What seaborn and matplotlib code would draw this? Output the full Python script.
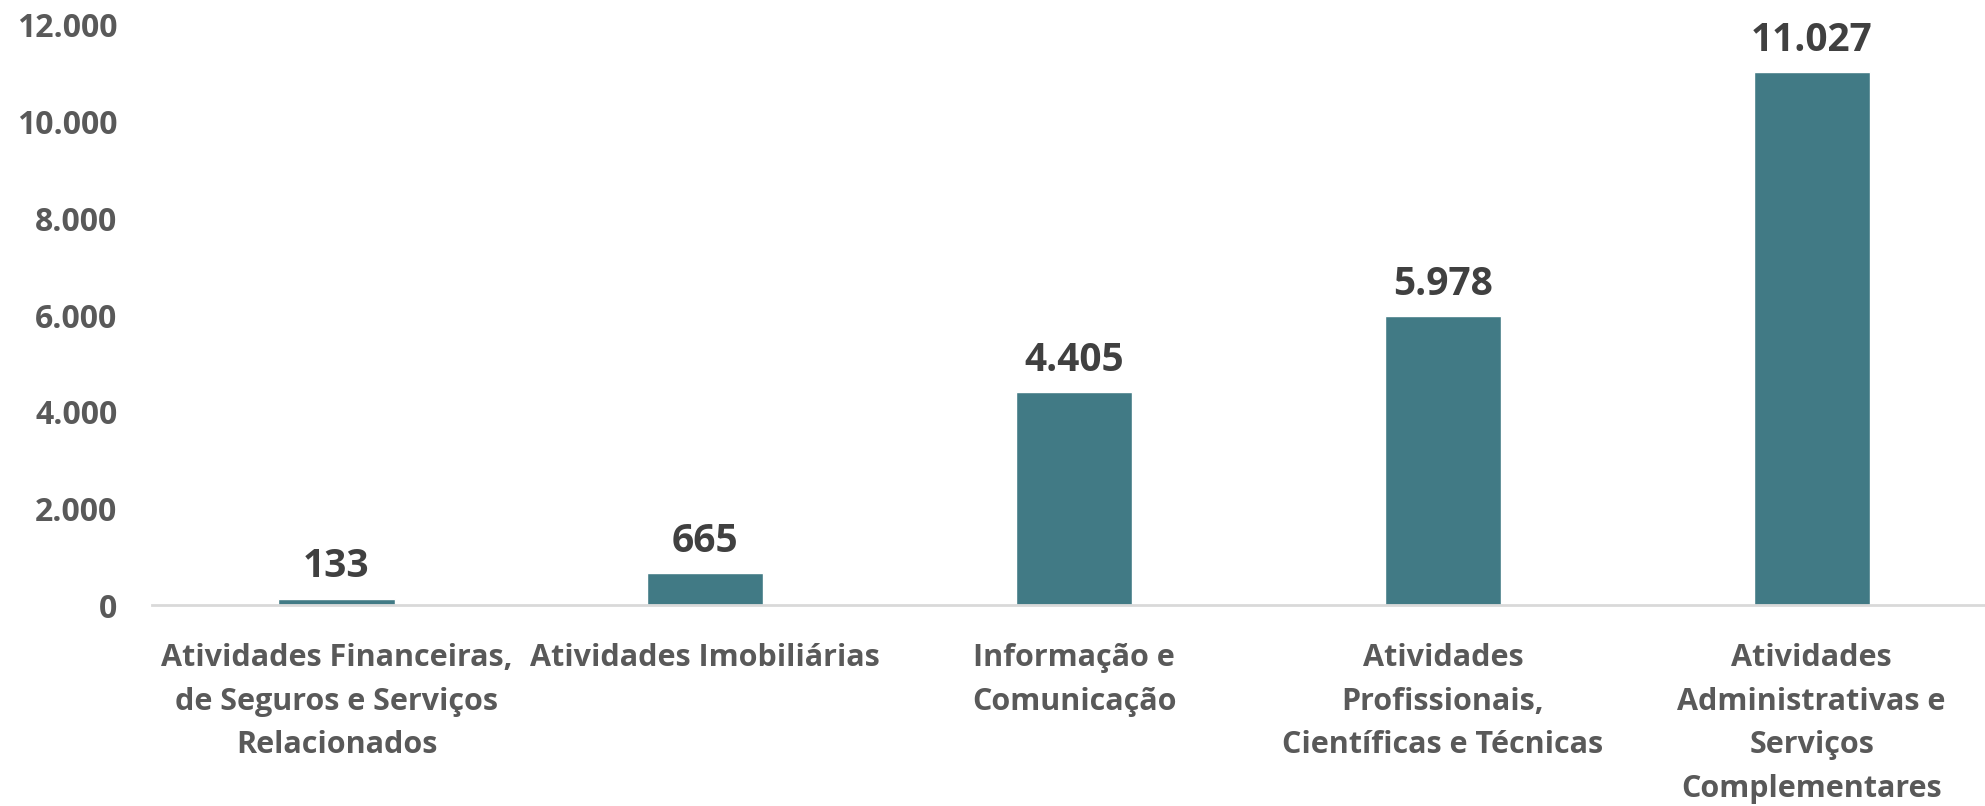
import pandas as pd
import seaborn as sns
import matplotlib.pyplot as plt

# data
categorias = [
    "Atividades Financeiras,\nde Seguros e Serviços\nRelacionados",
    "Atividades Imobiliárias",
    "Informação e\nComunicação",
    "Atividades\nProfissionais,\nCientíficas e Técnicas",
    "Atividades\nAdministrativas e\nServiços\nComplementares",
]
valores = [133, 665, 4405, 5978, 11027]
yticks = [0, 2000, 4000, 6000, 8000, 10000, 12000]

cor_barra = "#417A85"
cor_texto = "#595959"
cor_rotulo = "#404040"

sns.set_theme(style="white")
plt.rcParams["font.family"] = ["Open Sans", "DejaVu Sans"]
plt.rcParams["font.weight"] = "bold"

df = pd.DataFrame({"categoria": categorias, "valor": valores})

fig = plt.figure(figsize=(19.85, 8.06), dpi=100)
ax = fig.add_axes([0.0766, 0.249, 0.9234, 0.72])

sns.barplot(data=df, x="categoria", y="valor", color=cor_barra, width=0.315,
            saturation=1, ax=ax)

# data labels above bars
for cont in ax.containers:
    labels = [f"{v:,.0f}".replace(",", ".") for v in cont.datavalues]
    ax.bar_label(cont, labels=labels, padding=9, fontsize=28,
                 fontweight="bold", color=cor_rotulo)

ax.set_ylim(0, 12000)
ax.set_xlim(-0.5, 4.47)
ax.set_yticks(yticks)
ax.set_yticklabels([f"{t:,}".replace(",", ".") for t in yticks],
                   fontsize=23, fontweight="bold", color=cor_texto)
ax.set_xticks(range(len(categorias)))
ax.set_xticklabels(categorias, fontsize=22, fontweight="bold",
                   color=cor_texto, linespacing=1.6, va="top")
ax.tick_params(axis="x", length=0, pad=27)
ax.tick_params(axis="y", length=0, pad=25)
ax.set_xlabel("")
ax.set_ylabel("")

for s in ["top", "right", "left"]:
    ax.spines[s].set_visible(False)
ax.spines["bottom"].set_color("#D9D9D9")
ax.spines["bottom"].set_linewidth(2)
ax.grid(False)

fig.savefig("out.png", dpi=100)
